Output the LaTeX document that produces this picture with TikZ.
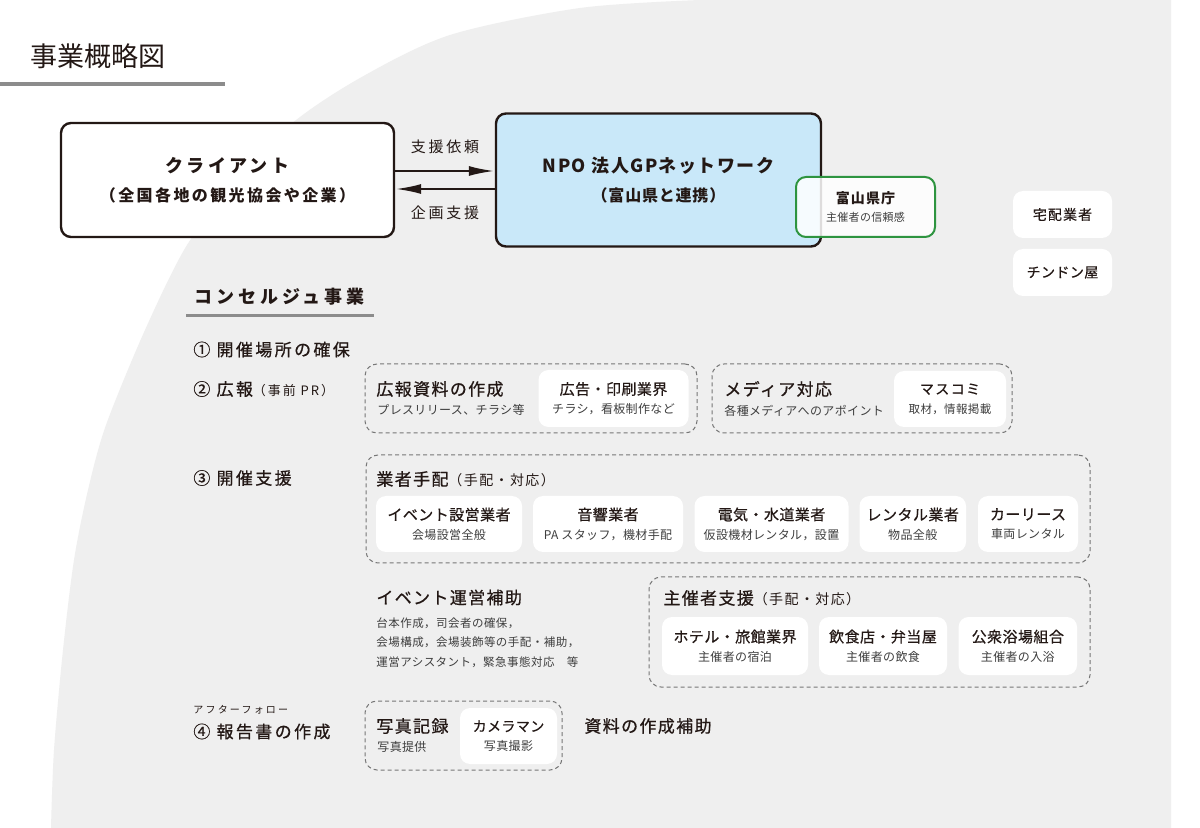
\documentclass[tikz,border=0pt]{standalone}
\usepackage{fontspec}
\setmainfont{Noto Sans CJK JP}
\newfontfamily\jpmid[FakeBold=0.6]{Noto Sans CJK JP}
\usetikzlibrary{arrows.meta,positioning}
\definecolor{ink}{HTML}{231815}
\definecolor{sub}{HTML}{3E3E3E}
\definecolor{paper}{HTML}{EFEFEF}
\definecolor{rulegray}{HTML}{8C8C8C}
\definecolor{npo}{HTML}{C9E8F9}
\definecolor{pref}{HTML}{2E9440}
\definecolor{dashgray}{HTML}{777777}
\newcommand{\jpsize}[2]{\fontsize{#1}{#2}\selectfont}
\newcommand{\trk}[1]{\addfontfeatures{LetterSpace=#1}}
\newcommand{\subtx}[1][6]{\normalfont\jpsize{#1}{9}\trk{3}\color{sub}}
\tikzset{
  main/.style={draw=ink, line width=1.2pt, rounded corners=5pt, inner sep=0pt,
               align=center, text=ink},
  wbox/.style={fill=white, rounded corners=5pt, inner sep=0pt, align=center,
               text=ink, font=\jpmid\jpsize{7.5}{9.5}\trk{3}},
  grp/.style={draw=dashgray, line width=0.5pt, dash pattern=on 2pt off 1.5pt,
              rounded corners=6pt},
  head/.style={anchor=west, inner sep=0pt, text=ink, font=\jpmid\jpsize{8.5}{10}\trk{8}},
  note/.style={anchor=west, inner sep=0pt, text=sub, font=\jpsize{6}{9.5}\trk{3}},
  item/.style={anchor=west, inner sep=0pt, text=ink, font=\jpmid\jpsize{8.5}{10}\trk{14}},
  lbl/.style={inner sep=0pt, text=ink, font=\jpsize{7.5}{9}\trk{18}},
  flow/.style={line width=1.2pt, draw=ink, -{Latex[length=13pt,width=5pt]}},
}
\begin{document}
\begin{tikzpicture}[x=0.5pt, y=-0.5pt]
  \useasboundingbox (0,0) rectangle (1200,828);
  \fill[white] (0,0) rectangle (1200,828);
  % backdrop
  \fill[paper] plot[smooth] coordinates {(51,828) (54,750) (63,650) (74,560) (88,490)
      (106,425) (145,330) (187,245) (235,185) (290,125) (360,78) (450,35) (580,8) (700,0)}
      -- (1171,0) -- (1171,828) -- cycle;

  % title
  \node[anchor=west, inner sep=0pt, text=ink, font=\jpsize{13.5}{16}] (title) at (30,56) {事業概略図};
  \draw[rulegray, line width=2pt] (0,84.5) -- (225,84.5);

  % top row
  \node[main, fill=white, minimum width=166.5pt, minimum height=57pt,
        font=\bfseries\jpsize{9}{14.5}\trk{18}] (client) at (227.5,180)
        {クライアント\\{\jpsize{8}{14.5}\trk{15}（全国各地の観光協会や企業）}};
  \node[main, fill=npo, minimum width=162.5pt, minimum height=66.5pt,
        font=\bfseries\jpsize{9}{14.5}\trk{8}] (gpnet) at (658.5,180)
        {NPO 法人GPネットワーク\\{\jpsize{8}{14.5}\trk{5}（富山県と連携）}};
  \draw[flow] ([yshift=4.5pt]client.east) -- ([yshift=4.5pt]gpnet.west);
  \draw[flow] ([yshift=-4.5pt]gpnet.west) -- ([yshift=-4.5pt]client.east);
  \node[lbl] (req) at (445,147) {支援依頼};
  \node[lbl] (plan) at (445,213) {企画支援};
  \node[draw=pref, line width=1pt, fill=white, fill opacity=0.85, text opacity=1,
        rounded corners=5pt, minimum width=69.5pt, minimum height=30pt, inner sep=0pt,
        align=center, text=ink, font=\bfseries\jpsize{7}{9}\trk{8}] (pref) at (865.5,207)
        {富山県庁\\{\subtx[5.5] 主催者の信頼感}};
  \node[wbox, minimum width=49.5pt, minimum height=23.5pt, font=\jpmid\jpsize{7}{9}\trk{8}]
        (deliv) at (1062.5,214.5) {宅配業者};
  \node[wbox, minimum width=49.5pt, minimum height=23.5pt, font=\jpmid\jpsize{7}{9}\trk{3}]
        (chindon) at (1062.5,272.5) {チンドン屋};

  % concierge section
  \node[anchor=west, inner sep=0pt, text=ink, font=\bfseries\jpsize{9}{10}\trk{22}]
        (conc) at (194,297) {コンセルジュ事業};
  \draw[rulegray, line width=1.5pt] (186,315.5) -- (374,315.5);

  \node[item] (i1) at (193,349.5) {① 開催場所の確保};
  \node[item] (i2) at (193,389) {② 広報{\normalfont\jpsize{6.5}{8}\trk{15}（事前 PR）}};
  \node[item] (i3) at (193,478) {③ 開催支援};
  \node[anchor=west, inner sep=0pt, text=ink, font=\jpsize{5}{6}\trk{22}] (after) at (193,710) {アフターフォロー};
  \node[item] (i4) at (193,731.5) {④ 報告書の作成};

  % ② PR
  \node[grp, minimum width=166pt, minimum height=34.5pt] (gpr) at (531,398.5) {};
  \node[head] (prmat) at (376,389) {広報資料の作成};
  \node[note] (prnote) at (377,410) {プレスリリース、チラシ等};
  \node[wbox, minimum width=75pt, minimum height=28.5pt] (print) at (613.5,398.5)
        {広告・印刷業界\\{\subtx チラシ，看板制作など}};
  \node[grp, minimum width=150pt, minimum height=34.5pt] (gmedia) at (862,398.5) {};
  \node[head] (media) at (724,389) {メディア対応};
  \node[note] (medianote) at (724,411) {各種メディアへのアポイント};
  \node[wbox, minimum width=56pt, minimum height=28pt, font=\jpmid\jpsize{7}{9.5}\trk{10}]
        (press) at (950,399) {マスコミ\\{\subtx[5.75] 取材，情報掲載}};

  % ③ vendors
  \node[grp, minimum width=362pt, minimum height=54pt] (gvend) at (728,509) {};
  \node[head] (vend) at (376,479) {業者手配{\normalfont\jpsize{7}{8}\trk{10}（手配・対応）}};
  \node[wbox, minimum width=73pt, minimum height=28pt] (v1) at (449,524)
        {イベント設営業者\\{\subtx 会場設営全般}};
  \node[wbox, minimum width=75pt, minimum height=28pt] (v2) at (608,524)
        {音響業者\\{\subtx PA スタッフ，機材手配}};
  \node[wbox, minimum width=77pt, minimum height=28pt] (v3) at (771.5,524)
        {電気・水道業者\\{\subtx 仮設機材レンタル，設置}};
  \node[wbox, minimum width=53.25pt, minimum height=28pt] (v4) at (912.75,524)
        {レンタル業者\\{\subtx 物品全般}};
  \node[wbox, minimum width=50pt, minimum height=28pt] (v5) at (1028,524)
        {カーリース\\{\subtx 車両レンタル}};

  \node[head] (ops) at (376,597.5) {イベント運営補助};
  \node[note, align=left, font=\jpsize{5.75}{9.75}\trk{4}] (opsnote) at (376,642.5)
        {台本作成，司会者の確保，\\会場構成，会場装飾等の手配・補助，\\運営アシスタント，緊急事態対応　等};

  \node[grp, minimum width=220.5pt, minimum height=55pt] (ghost) at (869.5,632) {};
  \node[head] (host) at (663,598) {主催者支援{\normalfont\jpsize{7}{8}\trk{10}（手配・対応）}};
  \node[wbox, minimum width=73pt, minimum height=29pt] (h1) at (735,646)
        {ホテル・旅館業界\\{\subtx 主催者の宿泊}};
  \node[wbox, minimum width=64pt, minimum height=29pt] (h2) at (883,646)
        {飲食店・弁当屋\\{\subtx 主催者の飲食}};
  \node[wbox, minimum width=59.2pt, minimum height=29pt] (h3) at (1017.8,646)
        {公衆浴場組合\\{\subtx 主催者の入浴}};

  % ④ report
  \node[grp, minimum width=98.5pt, minimum height=34.5pt] (gphoto) at (463.5,735.5) {};
  \node[head] (photo) at (376,726) {写真記録};
  \node[note] (photonote) at (377,747) {写真提供};
  \node[wbox, minimum width=48.5pt, minimum height=28pt, font=\jpmid\jpsize{7}{9.5}\trk{3}]
        (cam) at (508.5,736) {カメラマン\\{\subtx 写真撮影}};
  \node[head] (docs) at (584,726) {資料の作成補助};
\end{tikzpicture}
\end{document}
